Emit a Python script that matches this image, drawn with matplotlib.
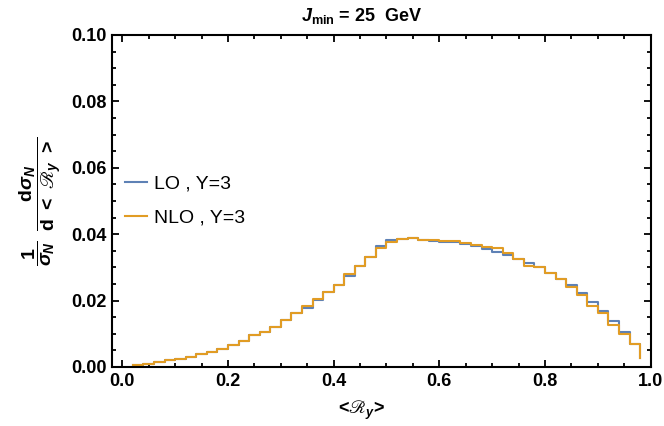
import numpy as np
import matplotlib
matplotlib.use("Agg")
import matplotlib.pyplot as plt
from matplotlib.ticker import MultipleLocator

# --- dados ---
bin_edges = np.round(np.arange(0.02, 0.981, 0.02), 2)   # 0.02 ... 0.98

nlo = [0.0007, 0.0010, 0.0015, 0.0020, 0.0025, 0.0031, 0.0038, 0.0046,
       0.0055, 0.0066, 0.0079, 0.0095, 0.0106, 0.0121, 0.0142, 0.0162,
       0.0184, 0.0206, 0.0225, 0.0248, 0.0279, 0.0305, 0.0332, 0.0359,
       0.0376, 0.0385, 0.0387, 0.0381, 0.0382, 0.0379, 0.0378, 0.0374,
       0.0367, 0.0361, 0.0357, 0.0342, 0.0324, 0.0304, 0.0300, 0.0282,
       0.0266, 0.0242, 0.0218, 0.0185, 0.0164, 0.0127, 0.0098, 0.0068,
       0.0026]

lo = [0.0007, 0.0010, 0.0015, 0.0020, 0.0025, 0.0031, 0.0038, 0.0046,
      0.0055, 0.0066, 0.0079, 0.0095, 0.0106, 0.0121, 0.0142, 0.0162,
      0.0179, 0.0201, 0.0225, 0.0248, 0.0274, 0.0305, 0.0332, 0.0365,
      0.0381, 0.0385, 0.0387, 0.0381, 0.0380, 0.0376, 0.0375, 0.0370,
      0.0363, 0.0356, 0.0347, 0.0338, 0.0324, 0.0312, 0.0300, 0.0282,
      0.0266, 0.0247, 0.0224, 0.0197, 0.0170, 0.0139, 0.0104, 0.0068,
      0.0026]

x_ticks = [0.0, 0.2, 0.4, 0.6, 0.8, 1.0]
y_ticks = [0.00, 0.02, 0.04, 0.06, 0.08, 0.10]

COR_LO = '#5E81B5'
COR_NLO = '#E19C24'
R_SCRIPT = '\u211B'  # R caligráfico

plt.rcParams['font.family'] = ['Liberation Sans', 'DejaVu Sans']
plt.rcParams['mathtext.fontset'] = 'custom'
plt.rcParams['mathtext.rm'] = 'Liberation Sans:bold'
plt.rcParams['mathtext.bf'] = 'Liberation Sans:bold'
plt.rcParams['mathtext.it'] = 'Liberation Sans:bold:italic'
plt.rcParams['mathtext.fallback'] = 'stix'

fig = plt.figure(figsize=(6.64, 4.26), dpi=100)
ax = fig.add_axes([0.169, 0.1385, 0.811, 0.7795])

ax.step(bin_edges, lo, where='post', color=COR_LO, lw=1.5, label='LO , Y=3')
ax.step(bin_edges, nlo, where='post', color=COR_NLO, lw=1.5, label='NLO , Y=3')

ax.set_xlim(-0.019, 1.0)
ax.set_ylim(0, 0.1)
ax.set_xticks(x_ticks)
ax.set_yticks(y_ticks)
ax.set_xticklabels([f'{v:.1f}' for v in x_ticks])
ax.set_yticklabels([f'{v:.2f}' for v in y_ticks])
ax.xaxis.set_minor_locator(MultipleLocator(0.05))
ax.yaxis.set_minor_locator(MultipleLocator(0.005))
ax.tick_params(which='both', direction='in', top=True, right=True,
               labelsize=13, width=1.3, colors='black')
ax.tick_params(which='major', length=5)
ax.tick_params(which='minor', length=3)
ax.tick_params(labeltop=False, labelright=False, pad=4)
for lbl in ax.get_xticklabels() + ax.get_yticklabels():
    lbl.set_fontweight('bold')
for s in ax.spines.values():
    s.set_linewidth(1.5)

ax.set_title(r'$J_{\mathrm{min}}$ = 25  GeV', fontsize=13, fontweight='bold',
             x=0.463, pad=10)
ax.set_xlabel('<$' + R_SCRIPT + '_y$>', fontsize=13, fontweight='bold')
ax.xaxis.set_label_coords(0.462, -0.095)
ax.set_ylabel(r'$\dfrac{1}{\sigma_N}\;\;\dfrac{\mathrm{d}\sigma_N}{\mathrm{d}\ <\ '
              + R_SCRIPT + r'_y\ >}$', fontsize=14)
ax.yaxis.set_label_coords(-0.092, 0.5)

ax.legend(loc='center left', bbox_to_anchor=(-0.008, 0.5), frameon=False,
          fontsize=14, handlelength=1.1, labelspacing=0.85, handletextpad=0.35)

fig.savefig('out.png', dpi=100)
